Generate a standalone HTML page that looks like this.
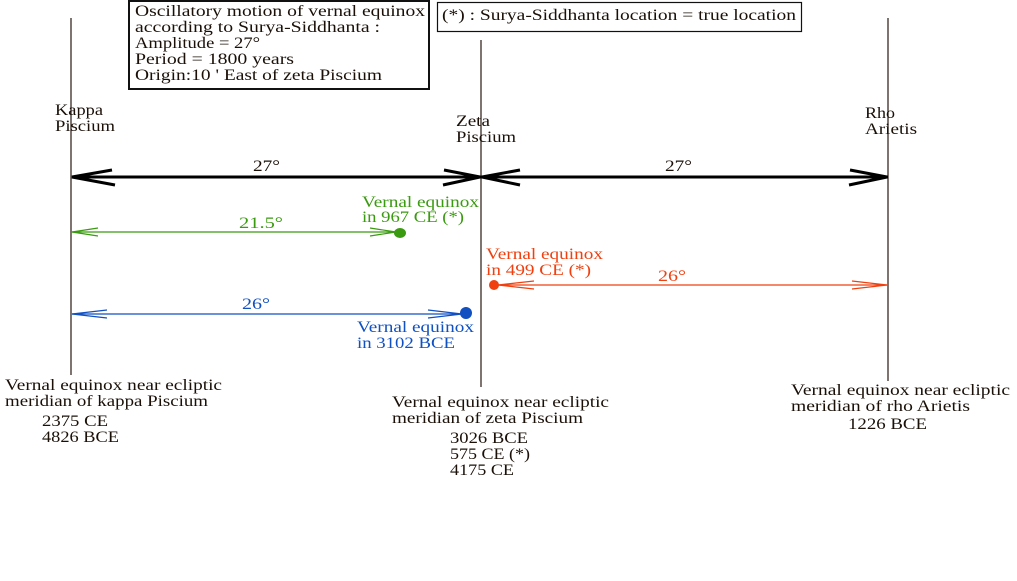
<!DOCTYPE html>
<html><head><meta charset="utf-8"><style>
body{margin:0;background:#fff;width:1017px;height:576px;overflow:hidden}
svg text{font-family:"Liberation Serif",serif;font-size:16px}
</style></head><body>
<svg width="1017" height="576" xmlns="http://www.w3.org/2000/svg">
<g stroke="#2a1810" stroke-width="1.2">
<line x1="71" y1="18" x2="71" y2="375"/>
<line x1="481" y1="40" x2="481" y2="387"/>
<line x1="888" y1="18" x2="888" y2="381"/>
</g>
<rect x="129" y="1" width="300" height="88" fill="none" stroke="#111" stroke-width="2"/>
<rect x="437.5" y="2.5" width="364" height="29" fill="none" stroke="#111" stroke-width="1.2"/>
<g fill="#1a1008" lengthAdjust="spacingAndGlyphs">
<text x="135" y="16" textLength="290" lengthAdjust="spacingAndGlyphs">Oscillatory motion of vernal equinox</text>
<text x="135" y="32" textLength="245" lengthAdjust="spacingAndGlyphs">according to Surya-Siddhanta :</text>
<text x="135" y="48" textLength="125" lengthAdjust="spacingAndGlyphs">Amplitude = 27°</text>
<text x="135" y="64" textLength="159" lengthAdjust="spacingAndGlyphs">Period = 1800 years</text>
<text x="135" y="80" textLength="247" lengthAdjust="spacingAndGlyphs">Origin:10 ' East of zeta Piscium</text>
<text x="442" y="20" textLength="354" lengthAdjust="spacingAndGlyphs">(*) : Surya-Siddhanta location = true location</text>
<text x="55" y="115" textLength="48" lengthAdjust="spacingAndGlyphs">Kappa</text><text x="55" y="131" textLength="60" lengthAdjust="spacingAndGlyphs">Piscium</text>
<text x="456" y="126" textLength="34" lengthAdjust="spacingAndGlyphs">Zeta</text><text x="456" y="142" textLength="60" lengthAdjust="spacingAndGlyphs">Piscium</text>
<text x="865" y="118" textLength="30" lengthAdjust="spacingAndGlyphs">Rho</text><text x="865" y="134" textLength="52" lengthAdjust="spacingAndGlyphs">Arietis</text>
<text x="253" y="171" textLength="27" lengthAdjust="spacingAndGlyphs">27°</text>
<text x="665" y="171" textLength="27" lengthAdjust="spacingAndGlyphs">27°</text>
<text x="5" y="390" textLength="217" lengthAdjust="spacingAndGlyphs">Vernal equinox near ecliptic</text>
<text x="5" y="406" textLength="203" lengthAdjust="spacingAndGlyphs">meridian of kappa Piscium</text>
<text x="42" y="426" textLength="66" lengthAdjust="spacingAndGlyphs">2375 CE</text><text x="42" y="442" textLength="77" lengthAdjust="spacingAndGlyphs">4826 BCE</text>
<text x="392" y="407" textLength="217" lengthAdjust="spacingAndGlyphs">Vernal equinox near ecliptic</text>
<text x="392" y="423" textLength="191" lengthAdjust="spacingAndGlyphs">meridian of zeta Piscium</text>
<text x="450" y="443" textLength="78" lengthAdjust="spacingAndGlyphs">3026 BCE</text><text x="450" y="459" textLength="80" lengthAdjust="spacingAndGlyphs">575 CE (*)</text><text x="450" y="475" textLength="64" lengthAdjust="spacingAndGlyphs">4175 CE</text>
<text x="791" y="395" textLength="219" lengthAdjust="spacingAndGlyphs">Vernal equinox near ecliptic</text>
<text x="791" y="411" textLength="179" lengthAdjust="spacingAndGlyphs">meridian of rho Arietis</text>
<text x="848" y="429" textLength="79" lengthAdjust="spacingAndGlyphs">1226 BCE</text>
</g>
<g stroke="#000" stroke-width="3" fill="none">
<line x1="72" y1="177" x2="888" y2="177"/>
<path d="M112 170 L72 177 L115 185"/>
<path d="M444 170 L480 177 L443 185"/>
<path d="M520 170 L482 177 L520 185"/>
<path d="M850 170 L887 177 L849 185"/>
</g>
<g stroke="#3a9a10" stroke-width="1.2" fill="none">
<line x1="72" y1="232" x2="400" y2="232"/>
<path d="M98 228 L72 232 L98 236"/><path d="M370 228 L396 232 L370 236"/>
</g>
<ellipse cx="400" cy="233" rx="6" ry="5" fill="#3a9a10"/>
<g fill="#3a9a10"><text x="362" y="207" textLength="117" lengthAdjust="spacingAndGlyphs">Vernal equinox</text><text x="362" y="222" textLength="102" lengthAdjust="spacingAndGlyphs">in 967 CE (*)</text><text x="239" y="228" textLength="44" lengthAdjust="spacingAndGlyphs">21.5°</text></g>
<g stroke="#f04010" stroke-width="1.2" fill="none">
<line x1="494" y1="285" x2="888" y2="285"/>
<path d="M534 281 L498 285 L534 289"/><path d="M852 281 L887 285 L852 289"/>
</g>
<circle cx="494" cy="285" r="5" fill="#f04010"/>
<g fill="#f04010"><text x="486" y="259" textLength="117" lengthAdjust="spacingAndGlyphs">Vernal equinox</text><text x="486" y="275" textLength="105" lengthAdjust="spacingAndGlyphs">in 499 CE (*)</text><text x="658" y="281" textLength="28" lengthAdjust="spacingAndGlyphs">26°</text></g>
<g stroke="#1050c0" stroke-width="1.2" fill="none">
<line x1="72" y1="314" x2="466" y2="314"/>
<path d="M107 310 L72 314 L107 318"/><path d="M428 310 L462 314 L428 318"/>
</g>
<ellipse cx="466" cy="313" rx="6" ry="6" fill="#1050c0"/>
<g fill="#1050c0"><text x="242" y="309" textLength="28" lengthAdjust="spacingAndGlyphs">26°</text><text x="357" y="332" textLength="117" lengthAdjust="spacingAndGlyphs">Vernal equinox</text><text x="357" y="348" textLength="98" lengthAdjust="spacingAndGlyphs">in 3102 BCE</text></g>
</svg>
</body></html>
